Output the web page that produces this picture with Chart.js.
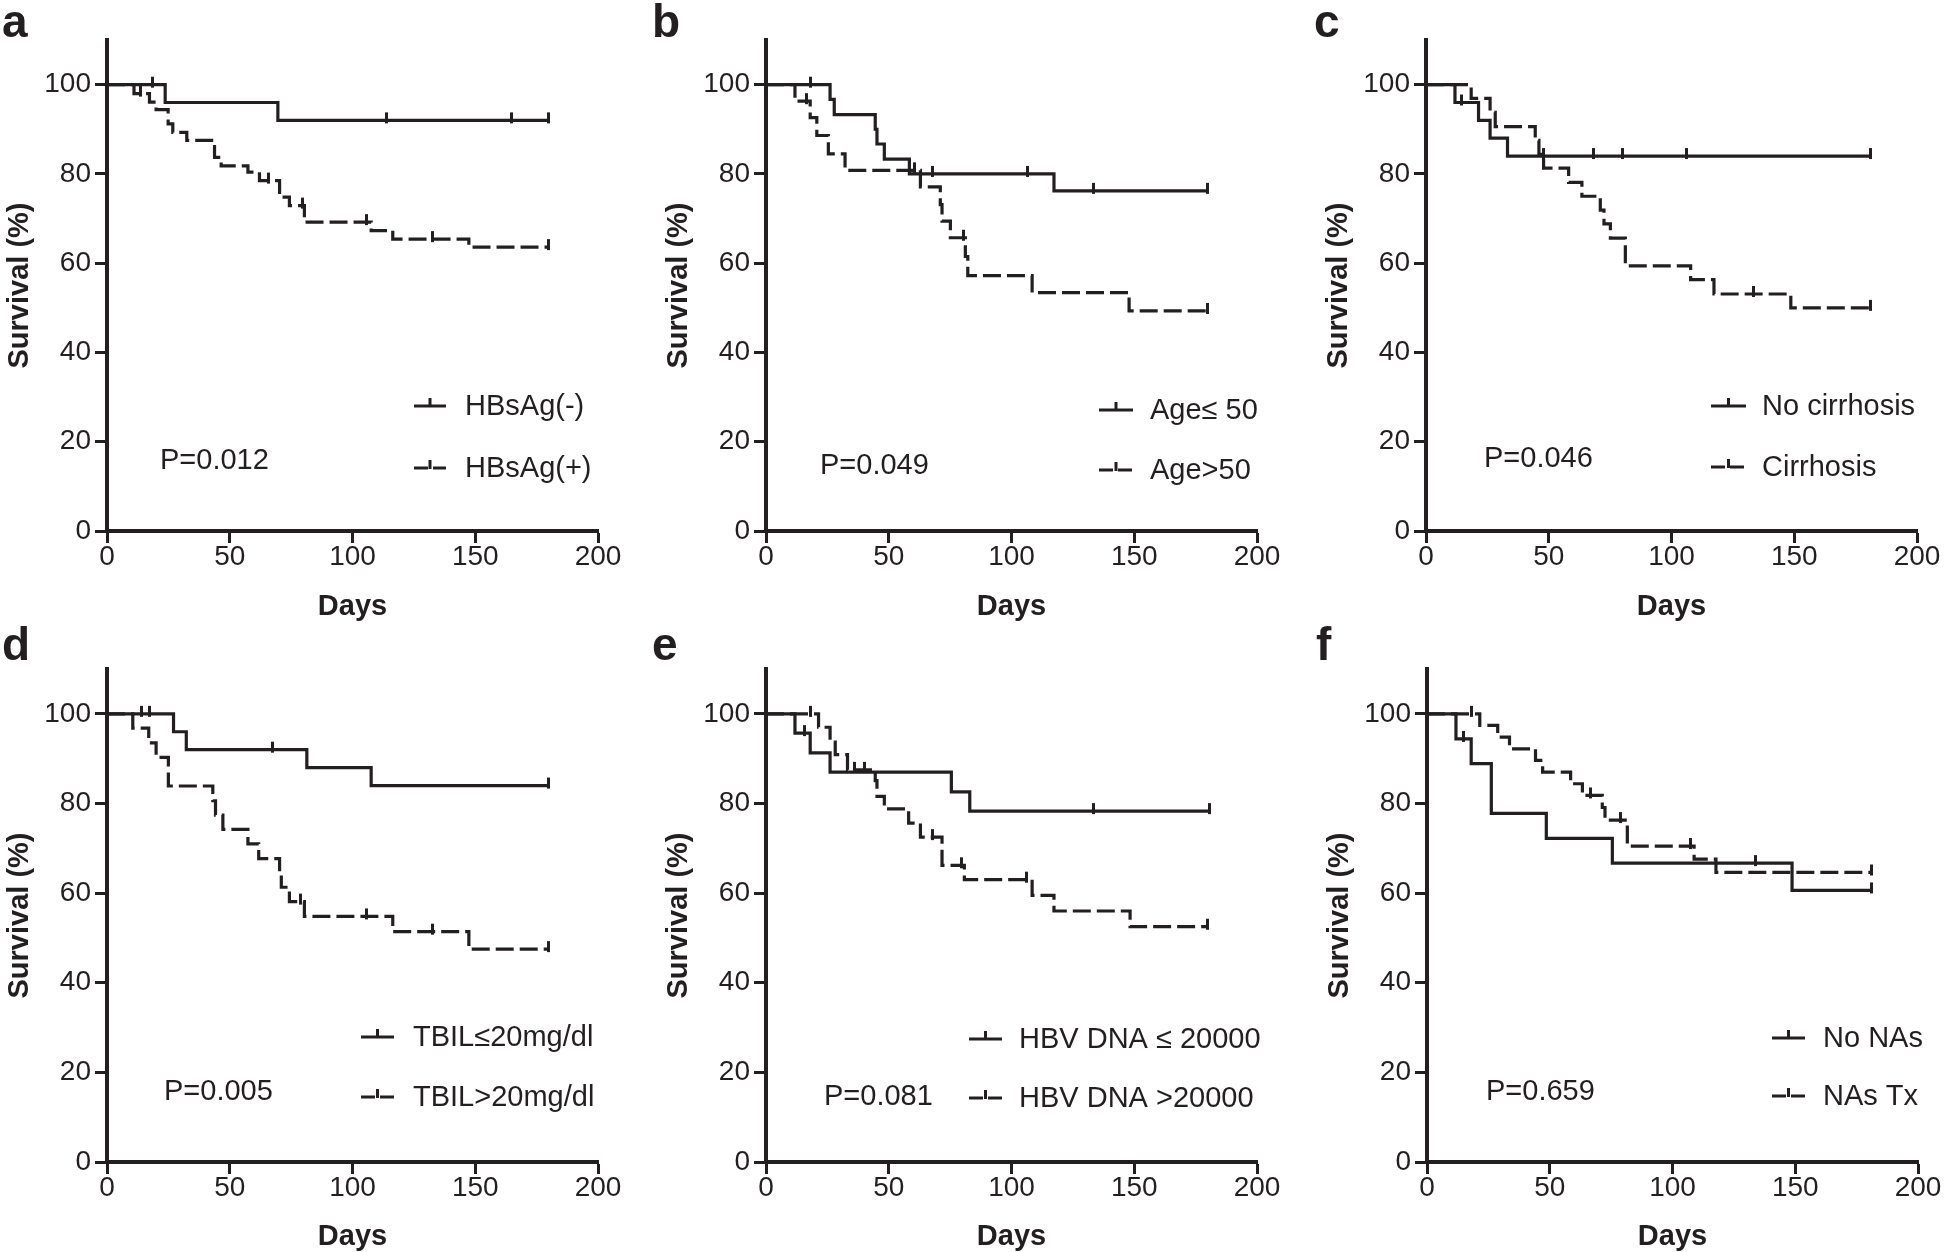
<!DOCTYPE html>
<html>
<head>
<meta charset="utf-8">
<script src="https://cdn.jsdelivr.net/npm/chart.js@4.4.1/dist/chart.umd.min.js"></script>
<style>
  html, body { margin: 0; padding: 0; background: #fff; overflow: hidden; }
  body { width: 1946px; height: 1252px; position: relative; }
  canvas { position: absolute; }
</style>
</head>
<body>
<canvas id="pa"></canvas>
<canvas id="pb"></canvas>
<canvas id="pc"></canvas>
<canvas id="pd"></canvas>
<canvas id="pe"></canvas>
<canvas id="pf"></canvas>
<script>
// axis ticks
const xTicks = [0, 50, 100, 150, 200];
const yTicks = [0, 20, 40, 60, 80, 100];

// a - HBsAg
const aNegDays = [0, 23.7, 69.6, 180];
const aNegSurv = [100, 96, 92, 92];
const aNegCensDays = [18.4, 113.7, 164.9, 180];
const aNegCensSurv = [100, 92, 92, 92];
const aPosDays = [0, 11, 17.3, 20, 24.9, 26.8, 32.5, 43.8, 46.5, 57.4, 62.1, 70.3, 74.3, 80.4, 107.6, 116.4, 147.4, 180];
const aPosSurv = [100, 98, 96.1, 94.4, 91.2, 89.3, 87.5, 83.7, 81.8, 80.4, 78.5, 74.8, 72.9, 69.2, 67.3, 65.4, 63.6, 63.6];
const aPosCensDays = [13.5, 65.6, 79.6, 105.6, 132.5, 180];
const aPosCensSurv = [98, 78.5, 72.9, 69.2, 65.4, 63.6];

// b - age
const bLowDays = [0, 26.1, 27.8, 44.5, 45.2, 48.2, 58.4, 117.3, 180];
const bLowSurv = [100, 96.7, 93.3, 90, 86.7, 83.3, 80, 76.2, 76.2];
const bLowCensDays = [18, 68, 106.4, 133.3, 180];
const bLowCensSurv = [100, 80, 80, 76.2, 76.2];
const bHighDays = [0, 11.8, 18, 20.7, 25.4, 32.2, 62.9, 71, 71.7, 75.1, 81.2, 82.2, 108.4, 147.9, 180];
const bHighSurv = [100, 96.3, 92.6, 88.6, 84.5, 80.8, 77.1, 73.1, 69.4, 65.7, 61.5, 57.2, 53.4, 49.3, 49.3];
const bHighCensDays = [16.6, 60.5, 80.6, 180];
const bHighCensSurv = [96.3, 80.8, 65.7, 49.3];

// c - cirrhosis
const cNoDays = [0, 11.8, 21.4, 26.1, 33.2, 181];
const cNoSurv = [100, 96, 92, 88, 84, 84];
const cNoCensDays = [14.6, 47.9, 68.3, 80, 106.1, 181];
const cNoCensSurv = [96, 84, 84, 84, 84, 84];
const cCirDays = [0, 18.4, 26.1, 28.2, 44.5, 46, 47.9, 58.1, 63.5, 71, 72.5, 75.1, 81.2, 107.8, 117.3, 148.6, 181];
const cCirSurv = [100, 96.9, 93.8, 90.6, 87.5, 84.4, 81.3, 78.1, 75, 71.9, 68.8, 65.6, 59.4, 56.3, 53.1, 50, 50];
const cCirCensDays = [133.3, 181];
const cCirCensSurv = [53.1, 50];

// d - TBIL
const dLowDays = [0, 27.1, 32.3, 81.4, 107.6, 180];
const dLowSurv = [100, 96, 92, 88, 84, 84];
const dLowCensDays = [13.9, 17.3, 67.3, 180];
const dLowCensSurv = [100, 100, 92, 84];
const dHighDays = [0, 10.5, 17, 20, 25, 43.1, 44.2, 47.2, 57.4, 61.8, 70.3, 71, 74.3, 80.4, 116.4, 147.4, 180];
const dHighSurv = [100, 96.8, 93.5, 90.3, 83.9, 80.6, 77.4, 74.2, 71, 67.7, 64.5, 61.3, 58.1, 54.8, 51.4, 47.5, 47.5];
const dHighCensDays = [79, 105.5, 132.5, 180];
const dHighCensSurv = [58.1, 54.8, 51.4, 47.5];

// e - HBV DNA
const eLowDays = [0, 11.8, 18, 26.1, 75.5, 83, 180.6];
const eLowSurv = [100, 95.7, 91.3, 87, 82.6, 78.3, 78.3];
const eLowCensDays = [15.5, 133.6, 180.6];
const eLowCensSurv = [95.7, 78.3, 78.3];
const eHighDays = [0, 21.4, 26.1, 28.2, 33.2, 44.5, 45.2, 48.2, 58.1, 62.9, 71.7, 80.8, 108.4, 117.3, 148.3, 180];
const eHighSurv = [100, 97, 93.7, 90.9, 87.5, 85.1, 81.6, 78.8, 75.6, 72.5, 66.2, 63, 59.5, 56, 52.5, 52.5];
const eHighCensDays = [18.3, 36, 40, 67.8, 79.5, 106, 180];
const eHighCensSurv = [100, 87.5, 87.5, 72.5, 66.2, 63, 52.5];

// f - NAs
const fNoDays = [0, 11.8, 18, 26.2, 48.6, 75.5, 148.7, 181];
const fNoSurv = [100, 94.4, 88.9, 77.8, 72.2, 66.7, 60.6, 60.6];
const fNoCensDays = [15, 134, 181];
const fNoCensSurv = [94.4, 66.7, 60.6];
const fTxDays = [0, 21.5, 28.8, 33.6, 44.2, 47.1, 58.5, 63.3, 71.4, 72.5, 81.6, 108.8, 117.7, 181];
const fTxSurv = [100, 97.4, 94.8, 92.2, 89.6, 87, 84.4, 81.8, 79.1, 76.3, 70.5, 67.6, 64.6, 64.6];
const fTxCensDays = [18.2, 66.5, 79, 107.5, 181];
const fTxCensSurv = [100, 81.8, 76.3, 70.5, 64.6];

const legendA = ['HBsAg(-)', 'HBsAg(+)'];
const legendB = ['Age\u2264 50', 'Age>50'];
const legendC = ['No cirrhosis', 'Cirrhosis'];
const legendD = ['TBIL\u226420mg/dl', 'TBIL>20mg/dl'];
const legendE = ['HBV DNA \u2264 20000', 'HBV DNA >20000'];
const legendF = ['No NAs', 'NAs Tx'];
const pValues = ['P=0.012', 'P=0.049', 'P=0.046', 'P=0.005', 'P=0.081', 'P=0.659'];

const INK = '#231f20';
const FONT = '"Liberation Sans", Arial, Helvetica, sans-serif';

// censor mark: short vertical tick sitting mostly above the line
const censorMark = document.createElement('canvas');
censorMark.width = 3;
censorMark.height = 20;
let cm = censorMark.getContext('2d');
cm.fillStyle = INK;
cm.fillRect(0, 2, 3, 11);

function xy(xs, ys) {
  return xs.map((x, i) => ({x: x, y: ys[i]}));
}

const kmNotes = {
  id: 'kmNotes',
  afterDraw(chart, args, o) {
    const ctx = chart.ctx;
    const area = chart.chartArea;
    ctx.save();
    ctx.fillStyle = INK;
    ctx.strokeStyle = INK;
    ctx.textAlign = 'left';
    ctx.font = 'bold 46px ' + FONT;
    ctx.textBaseline = 'alphabetic';
    ctx.fillText(o.letter, o.letterX, o.letterY);

    ctx.font = '29px ' + FONT;
    ctx.textBaseline = 'middle';
    for(let i = 0; i < o.labels.length; i++) {
      let y = area.bottom - o.rows[i];
      let x0 = area.left + o.lineX[0];
      let x1 = area.left + o.lineX[1];
      ctx.lineWidth = 3;
      ctx.setLineDash(i == 1 ? [14, 5] : []);
      ctx.beginPath();
      ctx.moveTo(x0, y);
      ctx.lineTo(x1, y);
      ctx.stroke();
      ctx.setLineDash([]);
      ctx.fillRect((x0 + x1) / 2 - 1.5, y - 8, 3, 9);
      ctx.fillText(o.labels[i], area.left + o.textX, y + 1);
    }
    ctx.fillText(o.pText, area.left + o.pX, area.bottom - o.pY + 1);
    ctx.restore();
  }
};

function makePanel(p) {
  let el = document.getElementById(p.id);
  el.width = p.width;
  el.height = p.height;
  el.style.left = p.left + 'px';
  el.style.top = p.top + 'px';

  let solid = {
    data: xy(p.s[0], p.s[1]), stepped: true, borderColor: INK, borderWidth: 3.2,
    pointRadius: 0, fill: false
  };
  let dashed = {
    data: xy(p.d[0], p.d[1]), stepped: true, borderColor: INK, borderWidth: 3.2,
    borderDash: [18, 6], pointRadius: 0, fill: false
  };
  let solidCens = {
    data: xy(p.s[2], p.s[3]), showLine: false, pointStyle: censorMark, pointRadius: 4
  };
  let dashedCens = {
    data: xy(p.d[2], p.d[3]), showLine: false, pointStyle: censorMark, pointRadius: 4
  };

  new Chart(el, {
    type: 'line',
    data: { datasets: [solid, dashed, solidCens, dashedCens] },
    options: {
      responsive: false,
      animation: false,
      events: [],
      layout: { padding: { top: p.chartTop, right: p.width - p.yWidth - 491, bottom: 0, left: 0 } },
      plugins: {
        legend: { display: false },
        tooltip: { enabled: false },
        kmNotes: {
          letter: p.letter, letterX: p.letterX, letterY: p.letterY,
          labels: p.labels, lineX: p.lineX, textX: p.textX, rows: p.rows,
          pText: p.pText, pX: p.pX, pY: p.pY
        }
      },
      scales: {
        x: {
          type: 'linear', min: 0, max: 200,
          afterBuildTicks(s) { s.ticks = xTicks.map(v => ({value: v})); },
          afterFit(s) { s.height = p.xHeight; },
          ticks: { color: INK, font: { family: FONT, size: 28 }, padding: -3, maxRotation: 0 },
          grid: { display: true, drawOnChartArea: false, drawTicks: true, tickLength: 12, tickWidth: 3, tickColor: INK },
          border: { display: true, color: INK, width: 4 },
          title: { display: true, text: 'Days', color: INK, font: { family: FONT, size: 29, weight: 'bold' }, padding: { top: 0, bottom: p.daysPad } }
        },
        y: {
          min: 0, max: 110,
          afterBuildTicks(s) { s.ticks = yTicks.map(v => ({value: v})); },
          afterFit(s) { s.width = p.yWidth; },
          ticks: { color: INK, font: { family: FONT, size: 28 }, padding: 4 },
          grid: { display: true, drawOnChartArea: false, drawTicks: true, tickLength: 12, tickWidth: 3, tickColor: INK },
          border: { display: true, color: INK, width: 4 },
          title: { display: true, text: 'Survival (%)', color: INK, font: { family: FONT, size: 29, weight: 'bold' }, padding: { top: p.yWidth - 104, bottom: 0 } }
        }
      }
    },
    plugins: [kmNotes]
  });
}

const topRow = { top: 0, height: 626, chartTop: 40, xHeight: 95, daysPad: 2, letterY: 37 };
const botRow = { top: 626, height: 626, chartTop: 43, xHeight: 90, daysPad: -2, letterY: 34 };

makePanel(Object.assign({}, topRow, {
  id: 'pa', left: 0, width: 649, yWidth: 107, letter: 'a', letterX: 2,
  s: [aNegDays, aNegSurv, aNegCensDays, aNegCensSurv], d: [aPosDays, aPosSurv, aPosCensDays, aPosCensSurv],
  labels: legendA, lineX: [307, 339], textX: 358, rows: [125, 63], pText: pValues[0], pX: 53, pY: 71
}));
makePanel(Object.assign({}, topRow, {
  id: 'pb', left: 649, width: 648, yWidth: 117, letter: 'b', letterX: 3,
  s: [bLowDays, bLowSurv, bLowCensDays, bLowCensSurv], d: [bHighDays, bHighSurv, bHighCensDays, bHighCensSurv],
  labels: legendB, lineX: [333, 367], textX: 384, rows: [121, 61], pText: pValues[1], pX: 54, pY: 66
}));
makePanel(Object.assign({}, topRow, {
  id: 'pc', left: 1297, width: 649, yWidth: 129, letter: 'c', letterX: 17,
  s: [cNoDays, cNoSurv, cNoCensDays, cNoCensSurv], d: [cCirDays, cCirSurv, cCirCensDays, cCirCensSurv],
  labels: legendC, lineX: [285, 320], textX: 336, rows: [125, 64], pText: pValues[2], pX: 58, pY: 73
}));
makePanel(Object.assign({}, botRow, {
  id: 'pd', left: 0, width: 649, yWidth: 107, letter: 'd', letterX: 2,
  s: [dLowDays, dLowSurv, dLowCensDays, dLowCensSurv], d: [dHighDays, dHighSurv, dHighCensDays, dHighCensSurv],
  labels: legendD, lineX: [254, 287], textX: 306, rows: [125, 65], pText: pValues[3], pX: 57, pY: 71
}));
makePanel(Object.assign({}, botRow, {
  id: 'pe', left: 649, width: 648, yWidth: 117, letter: 'e', letterX: 3,
  s: [eLowDays, eLowSurv, eLowCensDays, eLowCensSurv], d: [eHighDays, eHighSurv, eHighCensDays, eHighCensSurv],
  labels: legendE, lineX: [203, 236], textX: 253, rows: [123, 64], pText: pValues[4], pX: 58, pY: 66
}));
makePanel(Object.assign({}, botRow, {
  id: 'pf', left: 1297, width: 649, yWidth: 130, letter: 'f', letterX: 19,
  s: [fNoDays, fNoSurv, fNoCensDays, fNoCensSurv], d: [fTxDays, fTxSurv, fTxCensDays, fTxCensSurv],
  labels: legendF, lineX: [345, 378], textX: 396, rows: [124, 66], pText: pValues[5], pX: 59, pY: 71
}));
</script>
</body>
</html>
